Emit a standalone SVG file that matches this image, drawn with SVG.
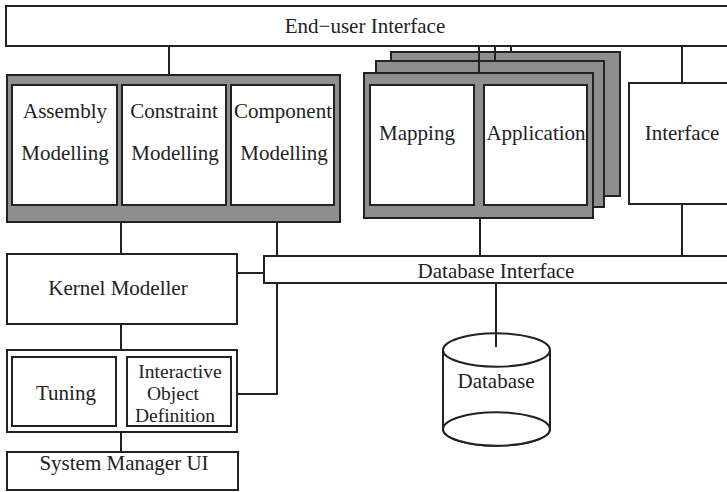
<svg xmlns="http://www.w3.org/2000/svg" width="727" height="492" viewBox="0 0 727 492">
<style>
  .box{fill:#ffffff;stroke:#222;stroke-width:2}
  .gray{fill:#8e8e8e;stroke:#222;stroke-width:2}
  .ln{fill:none;stroke:#222;stroke-width:2}
  text{font-family:"Liberation Serif","Times New Roman",serif;font-size:21px;fill:#222;text-anchor:middle}
  .sm{font-size:19.5px}
</style>
<rect width="727" height="492" fill="#ffffff"/>

<g id="connectors">
  <path class="ln" d="M169 46V75"/>
  <path class="ln" d="M121 222V254"/>
  <path class="ln" d="M277 222V256"/>
  <path class="ln" d="M237 273H264"/>
  <path class="ln" d="M277 283V394H237"/>
  <path class="ln" d="M121 324V350"/>
  <path class="ln" d="M121 432V452"/>
  <path class="ln" d="M480 218V256"/>
  <path class="ln" d="M682 204V256"/>
  <path class="ln" d="M682 46V83"/>
  <path class="ln" d="M496 283V347"/>
</g>

<g id="end-user-interface">
  <rect class="box" x="6" y="6" width="740" height="40"/>
  <text x="365" y="33">End−user Interface</text>
</g>

<g id="modelling-group">
  <rect class="gray" x="7" y="75" width="333" height="147"/>
  <g id="assembly-modelling">
    <rect class="box" x="12" y="85" width="105" height="120"/>
    <text x="65" y="118">Assembly</text>
    <text x="65" y="160">Modelling</text>
  </g>
  <g id="constraint-modelling">
    <rect class="box" x="122" y="85" width="104" height="120"/>
    <text x="174" y="118">Constraint</text>
    <text x="175" y="160">Modelling</text>
  </g>
  <g id="component-modelling">
    <rect class="box" x="231" y="85" width="103" height="120"/>
    <text x="283" y="118">Component</text>
    <text x="284" y="160">Modelling</text>
  </g>
</g>

<g id="mapping-application-stack">
  <rect class="gray" x="391" y="52" width="229" height="144"/>
  <rect class="gray" x="376" y="61" width="228" height="146"/>
  <rect class="gray" x="364" y="73" width="229" height="145"/>
  <g id="mapping">
    <rect class="box" x="370" y="85" width="104" height="120"/>
    <text x="417" y="140">Mapping</text>
  </g>
  <g id="application">
    <rect class="box" x="484" y="85" width="103" height="120"/>
    <text x="536" y="140">Application</text>
  </g>
  <path class="ln" d="M479 46V73M495 46V61M511 46V52"/>
</g>

<g id="interface">
  <rect class="box" x="629" y="83" width="120" height="121"/>
  <text x="682" y="140">Interface</text>
</g>

<g id="kernel-modeller">
  <rect class="box" x="7" y="254" width="230" height="70"/>
  <text x="118" y="295">Kernel Modeller</text>
</g>

<g id="database-interface">
  <rect class="box" x="264" y="256" width="480" height="27"/>
  <text x="496" y="278">Database Interface</text>
</g>

<g id="database">
  <path class="box" d="M443 350V429A53.5 16.7 0 0 0 550 429V350"/>
  <ellipse class="box" cx="496.5" cy="350" rx="53.5" ry="16.7"/>
  <ellipse class="box" cx="496.5" cy="429" rx="53.5" ry="16.7"/>
  <path class="ln" d="M496 333V347"/>
  <text x="496" y="388">Database</text>
</g>

<g id="tuning-group">
  <rect class="box" x="7" y="350" width="230" height="82"/>
  <g id="tuning">
    <rect class="box" x="12" y="357" width="104" height="69"/>
    <text x="66" y="400">Tuning</text>
  </g>
  <g id="interactive-object-definition">
    <rect class="box" x="127" y="357" width="104" height="69"/>
    <text class="sm" x="180" y="378">Interactive</text>
    <text class="sm" x="173" y="400">Object</text>
    <text class="sm" x="175" y="422">Definition</text>
  </g>
</g>

<g id="system-manager-ui">
  <rect class="box" x="7" y="452" width="231" height="38"/>
  <text x="124" y="470">System Manager UI</text>
</g>
</svg>
